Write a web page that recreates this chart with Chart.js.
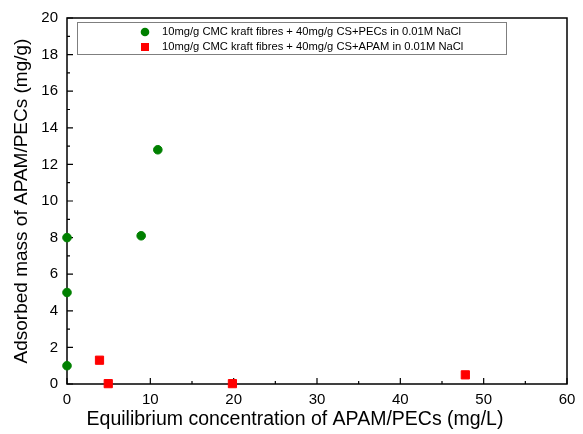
<!DOCTYPE html>
<html>
<head>
<meta charset="utf-8">
<script src="https://cdn.jsdelivr.net/npm/chart.js@4/dist/chart.umd.min.js"></script>
<style>
  html, body { margin: 0; padding: 0; background: #fff; }
  #wrap { width: 583px; height: 434px; }
</style>
</head>
<body>
<div id="wrap"><canvas id="graphics"></canvas></div>
<script>
// adsorption data, x = equilibrium conc (mg/L), y = adsorbed mass (mg/g)
const pecsX = [0, 0, 0, 8.9, 10.9];
const pecsY = [1.0, 5.0, 8.0, 8.1, 12.8];
const apamX = [3.9, 4.95, 19.85, 47.8];
const apamY = [1.3, 0.02, 0.02, 0.5];

const labels = [
  '10mg/g CMC kraft fibres + 40mg/g CS+PECs in 0.01M NaCl',
  '10mg/g CMC kraft fibres + 40mg/g CS+APAM in 0.01M NaCl'
];
const xTicks = [0, 10, 20, 30, 40, 50, 60];
const yTicks = [0, 2, 4, 6, 8, 10, 12, 14, 16, 18, 20];
const xTitle = 'Equilibrium concentration of APAM/PECs (mg/L)';
const yTitle = 'Adsorbed mass of APAM/PECs (mg/g)';

const font = '"Liberation Sans", Arial, sans-serif';

const toPoints = (xs, ys) => xs.map((x, i) => ({ x: x, y: ys[i] }));

// frame + inward ticks (major and minor) on bottom/left axes, x title
// drawn before the points so the markers sit on top of the axis lines
const frameTicks = {
  id: 'frameTicks',
  beforeDatasetsDraw(chart) {
    const ctx = chart.ctx;
    const a = chart.chartArea;
    const xs = chart.scales.x, ys = chart.scales.y;
    ctx.save();
    ctx.strokeStyle = '#000';
    ctx.lineWidth = 1.5;
    ctx.strokeRect(a.left, a.top, a.right - a.left, a.bottom - a.top);
    ctx.lineWidth = 1.2;
    ctx.beginPath();
    xTicks.forEach((v, i) => {
      const px = xs.getPixelForValue(v);
      ctx.moveTo(px, a.bottom); ctx.lineTo(px, a.bottom - 6);
      if (i < xTicks.length - 1) {
        const m = xs.getPixelForValue(v + 5);
        ctx.moveTo(m, a.bottom); ctx.lineTo(m, a.bottom - 3);
      }
    });
    yTicks.forEach((v, i) => {
      const py = ys.getPixelForValue(v);
      ctx.moveTo(a.left, py); ctx.lineTo(a.left + 6, py);
      if (i < yTicks.length - 1) {
        const m = ys.getPixelForValue(v + 1);
        ctx.moveTo(a.left, m); ctx.lineTo(a.left + 3, m);
      }
    });
    ctx.stroke();

    ctx.fillStyle = '#000';
    ctx.font = '19.5px ' + font;
    ctx.textAlign = 'center';
    ctx.textBaseline = 'middle';
    ctx.fillText(xTitle, (a.left + a.right) / 2 - 22, 420);
    ctx.restore();
  }
};

// boxed legend inside the plot
const boxLegend = {
  id: 'boxLegend',
  afterDraw(chart) {
    const ctx = chart.ctx;
    const a = chart.chartArea;
    const x0 = a.left + 10, y0 = a.top + 4, w = 429, h = 32;
    ctx.save();
    ctx.strokeStyle = '#7f7f7f';
    ctx.lineWidth = 1;
    ctx.strokeRect(x0 + 0.5, y0 + 0.5, w, h);
    ctx.font = '11.2px ' + font;
    ctx.textBaseline = 'middle';
    chart.data.datasets.forEach((ds, i) => {
      const cy = y0 + 10 + i * 15;
      ctx.fillStyle = ds.backgroundColor;
      if (ds.pointStyle === 'rect') {
        ctx.fillRect(x0 + 64, cy - 4, 8, 8);
      } else {
        ctx.beginPath();
        ctx.arc(x0 + 68, cy, 4.3, 0, Math.PI * 2);
        ctx.fill();
      }
      ctx.fillStyle = '#000';
      ctx.fillText(ds.label, x0 + 85, cy);
    });
    ctx.restore();
  }
};

new Chart(document.getElementById('graphics'), {
  type: 'scatter',
  data: {
    datasets: [{
      label: labels[0],
      data: toPoints(pecsX, pecsY),
      backgroundColor: '#008000',
      borderColor: '#008000',
      pointStyle: 'circle',
      pointRadius: 4.3,
      pointHoverRadius: 4.3,
      clip: false
    }, {
      label: labels[1],
      data: toPoints(apamX, apamY),
      backgroundColor: '#ff0000',
      borderColor: '#ff0000',
      pointStyle: 'rect',
      pointRadius: 5.8,
      pointHoverRadius: 5.8,
      clip: false
    }]
  },
  options: {
    responsive: true,
    maintainAspectRatio: false,
    animation: false,
    layout: { padding: { top: 16, right: 16, left: 0, bottom: 0 } },
    plugins: { legend: { display: false }, tooltip: { enabled: false } },
    scales: {
      x: {
        type: 'linear',
        min: 0, max: 60,
        grid: { display: false, drawTicks: false },
        border: { display: false },
        afterBuildTicks: s => { s.ticks = xTicks.map(v => ({ value: v })); },
        afterFit: s => { s.height = 50; },
        ticks: { color: '#000', padding: 7, font: { family: font, size: 15 } },
        title: { display: false }
      },
      y: {
        type: 'linear',
        min: 0, max: 20,
        grid: { display: false, drawTicks: false },
        border: { display: false },
        afterBuildTicks: s => { s.ticks = yTicks.map(v => ({ value: v })); },
        afterFit: s => { s.width = 67; },
        ticks: { color: '#000', padding: 9, font: { family: font, size: 15 } },
        title: {
          display: true,
          text: yTitle,
          color: '#000',
          font: { family: font, size: 19 },
          padding: { top: 10, bottom: 0 }
        }
      }
    }
  },
  plugins: [frameTicks, boxLegend]
});
</script>
</body>
</html>
